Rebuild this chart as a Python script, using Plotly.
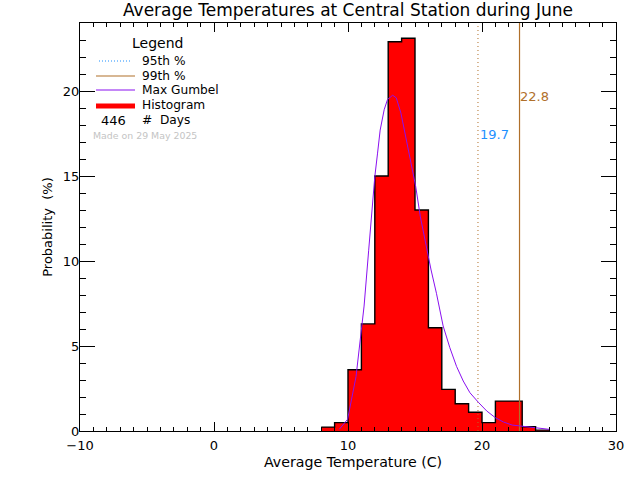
import plotly.graph_objects as go

bin_edges = [8, 9, 10, 11, 12, 13, 14, 15, 16, 17, 18, 19, 20, 21, 22, 23, 24, 25]
probability = [0.23, 0.49, 3.6, 6.3, 15.0, 22.9, 23.1, 13.0, 6.07, 2.45, 1.6, 1.1, 0.49, 1.76, 1.76, 0.25, 0.05]

gumbel_x = [9.35, 9.97, 10.6, 10.97, 11.2, 11.54, 11.83, 12.0, 12.2, 12.4, 12.7, 12.95, 13.33, 13.6,
            13.95, 14.3, 14.7, 15.05, 15.4, 15.75, 16.2, 16.6, 17.1, 17.6, 18.1, 18.6, 19.1, 19.75,
            20.35, 21.0, 21.6, 22.25, 22.9, 23.6, 24.3, 25.0]
gumbel_y = [0.1, 0.69, 3.2, 5.8, 7.35, 10.6, 13.6, 14.96, 16.3, 17.7, 18.9, 19.5, 19.75, 19.6,
            18.7, 17.3, 15.75, 14.4, 12.6, 11.2, 9.47, 8.1, 6.18, 4.9, 3.8, 2.94, 2.25, 1.67,
            1.18, 0.78, 0.53, 0.35, 0.29, 0.2, 0.14, 0.1]

p95 = 19.7
p99 = 22.8
n_days = 446
title = "Average Temperatures at Central Station during June"
x_label = "Average Temperature (C)"
y_label = "Probability  (%)"
legend_labels = ["95th %", "99th %", "Max Gumbel", "Histogram", "#  Days"]
made_on = "Made on 29 May 2025"

FONT = "DejaVu Sans"
W, H = 640, 480
L, R, T, B = 80, 24, 23, 49
BROWN = "#b0702a"
BLUE = "#1e90ff"
PURPLE = "#8a10f0"


def px(x):
    return (x - L) / (W - L - R)


def py(y):
    return 1 - (y - T) / (H - T - B)


fig = go.Figure()
fig.add_trace(go.Scatter(
    x=bin_edges, y=probability + [probability[-1]], mode="lines",
    line=dict(color="black", width=1.4, shape="hv"),
    fill="tozeroy", fillcolor="#ff0000", name="Histogram", showlegend=False))
fig.add_trace(go.Scatter(
    x=[p95, p95], y=[0, 24], mode="lines",
    line=dict(color=BROWN, width=1, dash="1px 3px"), name="95th %", showlegend=False))
fig.add_trace(go.Scatter(
    x=[p99, p99], y=[0, 24], mode="lines",
    line=dict(color=BROWN, width=1.2), name="99th %", showlegend=False))
fig.add_trace(go.Scatter(
    x=gumbel_x, y=gumbel_y, mode="lines",
    line=dict(color=PURPLE, width=1), name="Max Gumbel", showlegend=False))


def note(x, y, text, size=12, color="black", anchor="left"):
    fig.add_annotation(
        x=px(x), y=py(y), xref="paper", yref="paper", yanchor="middle", xanchor=anchor,
        text=text, showarrow=False, borderpad=0,
        font=dict(family=FONT, size=size, color=color))


fig.add_annotation(x=p95, y=17.45, xref="x", yref="y", text=str(p95), showarrow=False,
                   xanchor="left", font=dict(family=FONT, size=13, color=BLUE))
fig.add_annotation(x=p99, y=19.7, xref="x", yref="y", text=str(p99), showarrow=False,
                   xanchor="left", xshift=-2, font=dict(family=FONT, size=13, color=BROWN))

note(157, 43, "Legend", 14, anchor="center")
rows = [61, 75.7, 90.5, 105.3, 120]
for y, label in zip(rows, legend_labels):
    note(141, y, label, 12.2)
note(113, 120, str(n_days), 13, anchor="center")
note(92, 135, made_on, 9.4, "#c4c4c4")
note(353, 462, x_label, 14.2, anchor="center")

samples = [
    dict(y=61, color=BLUE, width=1, dash="1px 2px", x0=99, x1=132),
    dict(y=76, color=BROWN, width=1.2, dash="solid", x0=96, x1=135),
    dict(y=90, color=PURPLE, width=1.2, dash="solid", x0=96, x1=135),
    dict(y=106, color="#ff0000", width=5, dash="solid", x0=96, x1=135),
]
for s in samples:
    fig.add_shape(type="line", xref="paper", yref="paper",
                  x0=px(s["x0"]), x1=px(s["x1"]), y0=py(s["y"]), y1=py(s["y"]),
                  line=dict(color=s["color"], width=s["width"], dash=s["dash"]))

axis_common = dict(
    showgrid=False, zeroline=False, showline=True, linecolor="black", linewidth=1,
    mirror="allticks", ticks="inside", tickcolor="black", tickwidth=1,
    tickfont=dict(family=FONT, size=13, color="black"),
)
fig.update_xaxes(range=[-10, 30], dtick=10, ticklen=9, ticklabelstandoff=2,
                 minor=dict(ticks="inside", dtick=1, ticklen=4, tickcolor="black", showgrid=False),
                 **axis_common)
fig.update_yaxes(range=[0, 24], dtick=5, ticklen=15, ticklabelstandoff=-3,
                 minor=dict(ticks="inside", dtick=1, ticklen=6, tickcolor="black", showgrid=False),
                 title=dict(text=y_label, font=dict(family=FONT, size=13, color="black"), standoff=7),
                 **axis_common)
fig.update_layout(
    width=W, height=H, margin=dict(l=L, r=R, t=T, b=B, autoexpand=False),
    paper_bgcolor="white", plot_bgcolor="white", showlegend=False,
    title=dict(text=title, x=348 / W, xanchor="center", y=1 - 10 / H, yanchor="middle",
               font=dict(family=FONT, size=17, color="black")),
)
fig.write_html("out.html", config=dict(displayModeBar=False),
               post_script="document.body.style.margin='0';document.documentElement.style.overflow='hidden';")
